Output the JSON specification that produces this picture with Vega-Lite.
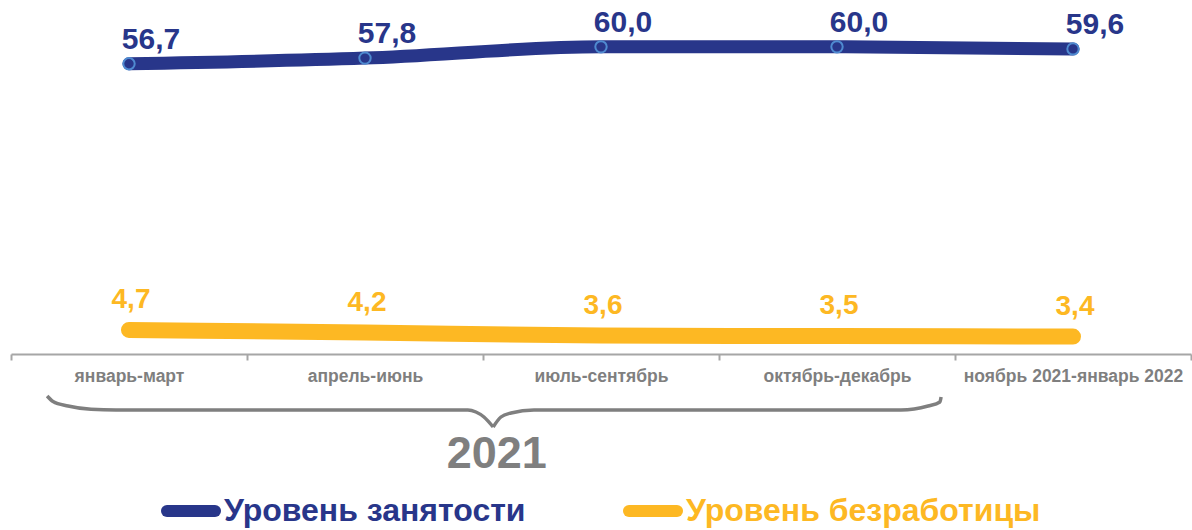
{
  "$schema": "https://vega.github.io/schema/vega-lite/v6.json",
  "padding": {"left": 10, "top": 7, "right": 2, "bottom": 0},
  "spacing": 3,
  "config": {
    "view": {"stroke": null},
    "font": "Liberation Sans",
    "locale": {"number": {"decimal": ",", "thousands": " ", "grouping": [3], "currency": ["", ""]}}
  },
  "vconcat": [
    {
      "width": 1180,
      "height": 344,
      "data": {"values": [
        {"period": "январь-март", "series": "Уровень занятости", "value": 56.7},
        {"period": "апрель-июнь", "series": "Уровень занятости", "value": 57.8},
        {"period": "июль-сентябрь", "series": "Уровень занятости", "value": 60.0},
        {"period": "октябрь-декабрь", "series": "Уровень занятости", "value": 60.0},
        {"period": "ноябрь 2021-январь 2022", "series": "Уровень занятости", "value": 59.6},
        {"period": "январь-март", "series": "Уровень безработицы", "value": 4.7},
        {"period": "апрель-июнь", "series": "Уровень безработицы", "value": 4.2},
        {"period": "июль-сентябрь", "series": "Уровень безработицы", "value": 3.6},
        {"period": "октябрь-декабрь", "series": "Уровень безработицы", "value": 3.5},
        {"period": "ноябрь 2021-январь 2022", "series": "Уровень безработицы", "value": 3.4}
      ]},
      "encoding": {
        "x": {
          "field": "period", "type": "nominal", "sort": null,
          "scale": {"type": "band", "paddingInner": 0, "paddingOuter": 0},
          "axis": {
            "title": null, "labelAngle": 0, "tickBand": "extent",
            "domainColor": "#a6a6a6", "domainWidth": 2,
            "tickColor": "#a6a6a6", "tickWidth": 2, "tickSize": 6,
            "labelFont": "Liberation Sans", "labelFontSize": 17.5, "labelFontWeight": "bold",
            "labelColor": "#7f7f7f", "labelPadding": 7, "labelLimit": 0, "grid": false
          }
        },
        "y": {"field": "value", "type": "quantitative", "scale": {"domain": [0, 67.2]}, "axis": null}
      },
      "layer": [
        {
          "transform": [{"filter": "datum.series === 'Уровень безработицы'"}],
          "mark": {"type": "line", "interpolate": "monotone", "strokeWidth": 16, "strokeCap": "round"},
          "encoding": {
            "color": {
              "field": "series", "type": "nominal",
              "scale": {"domain": ["Уровень занятости", "Уровень безработицы"], "range": ["#28368a", "#fdb823"]},
              "legend": {
                "orient": "none", "legendX": 150, "legendY": 471, "direction": "horizontal",
                "title": null, "symbolType": "stroke", "symbolSize": 2304, "symbolStrokeWidth": 12,
                "labelFont": "Liberation Sans", "labelFontSize": 32, "labelFontWeight": "bold",
                "labelOffset": 3, "columnPadding": 79, "labelLimit": 0,
                "encode": {
                  "symbols": {"update": {"strokeCap": {"value": "round"}}},
                  "labels": {"update": {"fill": {"signal": "datum.label === 'Уровень занятости' ? '#28368a' : '#fdb823'"}}}
                }
              }
            }
          }
        },
        {
          "transform": [{"filter": "datum.series === 'Уровень занятости'"}],
          "mark": {"type": "line", "interpolate": "monotone", "strokeWidth": 13, "strokeCap": "round"},
          "encoding": {"color": {"field": "series", "type": "nominal"}}
        },
        {
          "transform": [{"filter": "datum.series === 'Уровень занятости'"}],
          "mark": {"type": "point", "shape": "circle", "filled": true, "size": 130, "fill": "#28368a", "stroke": "#4f8ad0", "strokeWidth": 2, "opacity": 1}
        },
        {
          "transform": [{"filter": "datum.series === 'Уровень занятости'"}],
          "mark": {"type": "text", "fontSize": 30, "fontWeight": "bold", "color": "#28368a", "dx": 22, "dy": -15, "baseline": "alphabetic", "align": "center"},
          "encoding": {"text": {"field": "value", "type": "quantitative", "format": ".1f"}}
        },
        {
          "transform": [{"filter": "datum.series === 'Уровень безработицы'"}],
          "mark": {"type": "text", "fontSize": 28, "fontWeight": "bold", "color": "#fdb823", "dx": 2, "dy": -22, "baseline": "alphabetic", "align": "center"},
          "encoding": {"text": {"field": "value", "type": "quantitative", "format": ".1f"}}
        }
      ]
    },
    {
      "width": 1180,
      "height": 90,
      "layer": [
        {
          "data": {"values": [
            {"part": "left", "pos": 0.153, "level": 83},
            {"part": "left", "pos": 0.178, "level": 77.5},
            {"part": "left", "pos": 0.242, "level": 73},
            {"part": "left", "pos": 0.339, "level": 69.7},
            {"part": "left", "pos": 0.445, "level": 69},
            {"part": "left", "pos": 1.936, "level": 69},
            {"part": "left", "pos": 1.970, "level": 67},
            {"part": "left", "pos": 2.004, "level": 62},
            {"part": "left", "pos": 2.043, "level": 52},
            {"part": "right", "pos": 2.043, "level": 52},
            {"part": "right", "pos": 2.076, "level": 62},
            {"part": "right", "pos": 2.119, "level": 66},
            {"part": "right", "pos": 2.216, "level": 69},
            {"part": "right", "pos": 3.771, "level": 69},
            {"part": "right", "pos": 3.886, "level": 73},
            {"part": "right", "pos": 3.936, "level": 77},
            {"part": "right", "pos": 3.941, "level": 82}
          ]},
          "mark": {"type": "line", "interpolate": "monotone", "color": "#7f7f7f", "strokeWidth": 3.5},
          "encoding": {
            "x": {"field": "pos", "type": "quantitative", "scale": {"domain": [0, 5]}, "axis": null},
            "y": {"field": "level", "type": "quantitative", "scale": {"domain": [0, 90]}, "axis": null},
            "detail": {"field": "part", "type": "nominal"}
          }
        },
        {
          "data": {"values": [{"pos": 2.058, "level": 25, "label": "2021"}]},
          "mark": {"type": "text", "fontSize": 45, "fontWeight": "bold", "color": "#7f7f7f", "baseline": "middle", "align": "center"},
          "encoding": {
            "x": {"field": "pos", "type": "quantitative"},
            "y": {"field": "level", "type": "quantitative"},
            "text": {"field": "label", "type": "nominal"}
          }
        }
      ]
    }
  ]
}
